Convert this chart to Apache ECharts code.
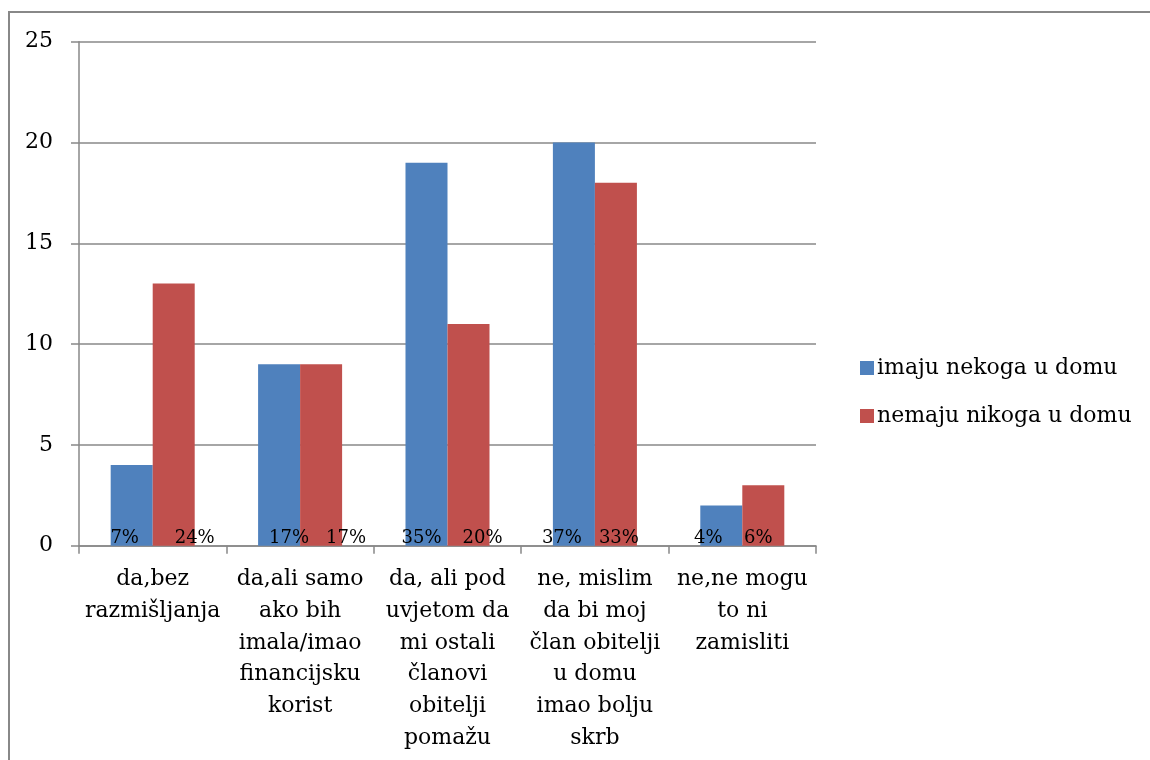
<!DOCTYPE html>
<html>
<head>
<meta charset="utf-8">
<script src="https://cdn.jsdelivr.net/npm/echarts@6/dist/echarts.min.js"></script>
<style>
  html, body { margin: 0; padding: 0; background: #fff; overflow: hidden; }
  #chart { width: 1150px; height: 760px; }
</style>
</head>
<body>
<div id="chart"></div>
<script>
// kategorije (x os)
const categories = [
    'da,bez\nrazmišljanja',
    'da,ali samo\nako bih\nimala/imao\nfinancijsku\nkorist',
    'da, ali pod\nuvjetom da\nmi ostali\nčlanovi\nobitelji\npomažu',
    'ne, mislim\nda bi moj\nčlan obitelji\nu domu\nimao bolju\nskrb',
    'ne,ne mogu\nto ni\nzamisliti'
];
const seriesNames = ['imaju nekoga u domu', 'nemaju nikoga u domu'];

// vrijednosti
const imajuValues = [4, 9, 19, 20, 2];
const nemajuValues = [13, 9, 11, 18, 3];

// postotci ispisani na dnu stupaca
const imajuPct = ['7%', '17%', '35%', '37%', '4%'];
const nemajuPct = ['24%', '17%', '20%', '33%', '6%'];

const yTicks = [0, 5, 10, 15, 20, 25];

// ručno pomaknuti natpisi u originalu (vodoravni pomak u px)
const imajuNudge = [-7, 10, -5, -12, -13];
const nemajuNudge = [21, 25, 14, 3, -5];

const FONT = 'DejaVu Serif';
const GREY = '#888888';

document.addEventListener('DOMContentLoaded', function() {
    const el = document.getElementById('chart');
    const chart = echarts.init(el, null, { renderer: 'canvas' });

    function pctData(values, pct, nudge) {
        return values.map(function(v, i) {
            return {
                value: v,
                label: { formatter: pct[i], offset: [nudge[i], 2] }
            };
        });
    }

    const pctLabel = {
        show: true,
        position: 'insideBottom',
        distance: 0,
        color: '#000',
        fontFamily: FONT,
        fontSize: 18
    };

    const option = {
        backgroundColor: '#fff',
        animation: false,
        textStyle: { fontFamily: FONT },
        graphic: [
            {
                type: 'line',
                shape: { x1: 9, y1: 12, x2: 9, y2: 760 },
                style: { stroke: GREY, lineWidth: 2 },
                silent: true
            },
            {
                type: 'line',
                shape: { x1: 8, y1: 12, x2: 1150, y2: 12 },
                style: { stroke: GREY, lineWidth: 2 },
                silent: true
            }
        ],
        grid: {
            left: 79,
            right: 334,
            top: 41.7,
            bottom: 214.3,
            containLabel: false
        },
        legend: {
            orient: 'vertical',
            left: 855,
            top: 352,
            itemWidth: 14,
            itemHeight: 14,
            itemGap: 26,
            icon: 'rect',
            data: seriesNames,
            textStyle: { fontFamily: FONT, fontSize: 22, color: '#000', padding: [0, 0, 0, -2] }
        },
        xAxis: {
            type: 'category',
            data: categories,
            axisLine: { show: true, lineStyle: { color: GREY, width: 1.5 } },
            axisTick: { show: true, length: 8, lineStyle: { color: GREY, width: 1.5 } },
            axisLabel: {
                interval: 0,
                margin: 18,
                color: '#000',
                fontFamily: FONT,
                fontSize: 22,
                lineHeight: 31.7,
                align: 'center'
            }
        },
        yAxis: {
            type: 'value',
            min: yTicks[0],
            max: yTicks[yTicks.length - 1],
            interval: 5,
            axisLine: { show: true, lineStyle: { color: GREY, width: 1.5 } },
            axisTick: { show: true, length: 8, lineStyle: { color: GREY, width: 1.5 } },
            splitLine: { show: true, lineStyle: { color: GREY, width: 1.5 } },
            axisLabel: {
                margin: 26,
                color: '#000',
                fontFamily: FONT,
                fontSize: 22
            }
        },
        series: [
            {
                name: seriesNames[0],
                type: 'bar',
                data: pctData(imajuValues, imajuPct, imajuNudge),
                barGap: '0%',
                barCategoryGap: '43%',
                itemStyle: { color: '#4F81BD' },
                label: pctLabel
            },
            {
                name: seriesNames[1],
                type: 'bar',
                data: pctData(nemajuValues, nemajuPct, nemajuNudge),
                barGap: '0%',
                barCategoryGap: '43%',
                itemStyle: { color: '#C0504D' },
                label: pctLabel
            }
        ]
    };

    chart.setOption(option);

    window.addEventListener('resize', function() {
        chart.resize();
    });
});
</script>
</body>
</html>
